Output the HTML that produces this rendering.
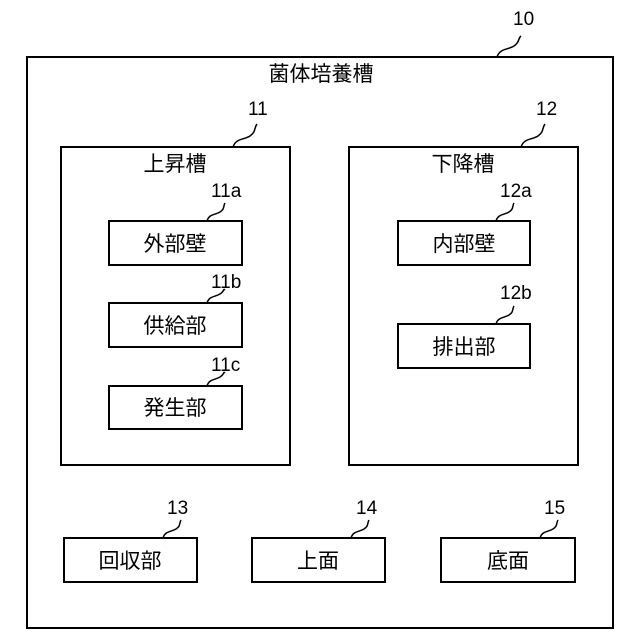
<!DOCTYPE html>
<html><head><meta charset="utf-8"><style>
body{margin:0;background:#fff}
svg{display:block}
text{font-family:"Liberation Sans","Noto Sans CJK JP",sans-serif;fill:#000}
</style></head><body>
<svg width="640" height="640" viewBox="0 0 640 640">
<g fill="none" stroke="#000" stroke-width="2">
<rect x="27" y="57" width="586" height="571"/>
<rect x="61" y="147" width="229" height="318"/>
<rect x="349" y="147" width="229" height="318"/>
<rect x="109" y="221" width="133" height="44"/>
<rect x="109" y="303" width="133" height="44"/>
<rect x="109" y="386" width="133" height="43"/>
<rect x="398" y="221" width="132" height="44"/>
<rect x="398" y="324" width="132" height="44"/>
<rect x="64" y="538" width="133" height="44"/>
<rect x="252" y="538" width="133" height="44"/>
<rect x="441" y="538" width="134" height="44"/>
</g>
<g fill="none" stroke="#000" stroke-width="1.5">
<path d="M497 57 C500 48,508 50,514 46 C520 42,518 38,521 36"/>
<path d="M233 147 C236 138,244 140,250 136 C256 132,254 128,257 124"/>
<path d="M521 147 C524 138,532 140,538 136 C544 132,542 128,545 124"/>
<path d="M207 221 C209 214,215 215,220 212 C225 209,223 206,225 203"/>
<path d="M207 303 C209 296,215 297,220 294 C225 291,223 288,225 290"/>
<path d="M207 386 C209 379,215 380,220 377 C225 374,223 371,225 373"/>
<path d="M496 221 C498 214,504 215,509 212 C514 209,512 206,514 203"/>
<path d="M496 324 C498 317,504 318,509 315 C514 312,512 309,514 306"/>
<path d="M163 538 C165 531,171 532,176 529 C181 526,179 523,181 520"/>
<path d="M351 538 C353 531,359 532,364 529 C369 526,367 523,369 520"/>
<path d="M540 538 C542 531,548 532,553 529 C558 526,556 523,558 520"/>
</g>
<g font-size="19">
<text x="513" y="25">10</text>
<text x="248" y="115">11</text>
<text x="536" y="115">12</text>
<text x="211" y="197">11a</text>
<text x="211" y="288">11b</text>
<text x="211" y="371">11c</text>
<text x="500" y="197">12a</text>
<text x="500" y="299">12b</text>
<text x="167" y="514">13</text>
<text x="356" y="514">14</text>
<text x="544" y="514">15</text>
</g>
<g font-size="21" text-anchor="middle">
<text x="321" y="81">菌体培養槽</text>
<text x="175" y="171">上昇槽</text>
<text x="463" y="171">下降槽</text>
<text x="175" y="251">外部壁</text>
<text x="175" y="333">供給部</text>
<text x="175" y="415">発生部</text>
<text x="464" y="251">内部壁</text>
<text x="464" y="354">排出部</text>
<text x="130" y="568">回収部</text>
<text x="318" y="568">上面</text>
<text x="508" y="568">底面</text>
</g>
</svg>
</body></html>
